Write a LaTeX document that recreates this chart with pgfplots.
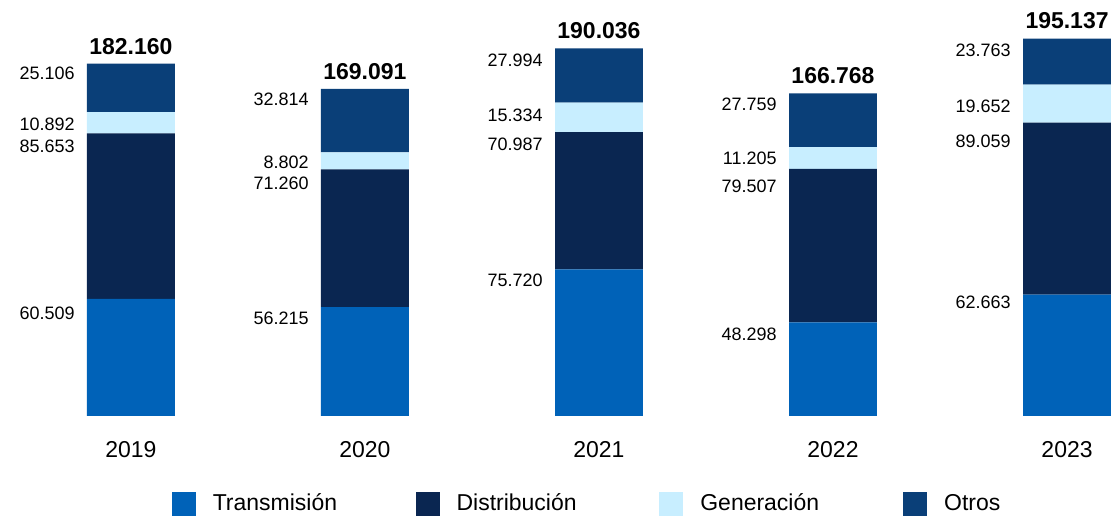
\documentclass[border=0pt]{standalone}
\usepackage{fontspec}
\setmainfont{Liberation Sans}
\usepackage{pgfplots}
\pgfplotsset{compat=1.18}
\usepackage{pgfplotstable}

\definecolor{trans}{HTML}{0062B8}
\definecolor{dist}{HTML}{0A2651}
\definecolor{gen}{HTML}{C8EEFF}
\definecolor{otros}{HTML}{0A3F78}

% x, value, label, label offset (px below segment top), total
\pgfplotstableread{
x T Tl To D Dl Do G Gl Go O Ol Oo tot
0 60.509 60.509 14 85.653 85.653 13 10.892 10.892 12 25.106 25.106 10 182.160
1 56.215 56.215 11 71.260 71.260 14 8.802 8.802 10 32.814 32.814 10 169.091
2 75.720 75.720 11 70.987 70.987 12 15.334 15.334 13 27.994 27.994 12 190.036
3 48.298 48.298 12 79.507 79.507 18 11.205 11.205 11 27.759 27.759 11 166.768
4 62.663 62.663 8 89.059 89.059 19 19.652 19.652 22 23.763 23.763 12 195.137
}\data

\pgfplotsset{
  sqlegend/.style={legend image code/.code={\fill[##1] (0pt,-6pt) rectangle (12pt,6pt);}},
  seglabel/.style 2 args={
    nodes near coords,
    point meta=explicit symbolic,
    visualization depends on={\thisrow{#1} \as \val},
    visualization depends on={\thisrow{#2} \as \off},
    every node near coord/.append style={anchor=east, inner sep=0pt, xshift=-28pt,
      yshift={\val*0.48372pt-\off*0.5pt}, font=\fontsize{9}{10}\selectfont, text=black},
  },
  geom/.style={
    scale only axis,
    width=555.5pt, height=208pt,
    xmin=-0.5592, xmax=4.1836,
    ymin=0, ymax=215,
    clip=false,
  },
}

\begin{document}
\begin{tikzpicture}
\begin{axis}[
  geom,
  ybar stacked,
  bar width=44pt,
  axis line style={draw=none},
  major tick length=0pt,
  ytick=\empty,
  xtick={0,1,2,3,4},
  xticklabels={2019,2020,2021,2022,2023},
  xticklabel style={anchor=north, inner sep=0pt, yshift=-12.5pt, font=\fontsize{11.5}{13}\selectfont},
  legend columns=4,
  legend style={draw=none, fill=none, inner sep=0pt, outer sep=0pt, column sep=0pt,
    anchor=south west, at={(0.1548,-0.2404)},
    font=\fontsize{11.5}{13}\selectfont, nodes={inner sep=0pt}},
]
\addplot[fill=trans, draw=none, sqlegend, seglabel={T}{To}] table[x=x, y=T, meta=Tl] {\data};
\addlegendentry{\hspace{8.5pt}\makebox[101.5pt][l]{Transmisión}}
\addplot[fill=dist, draw=none, sqlegend, seglabel={D}{Do}] table[x=x, y=D, meta=Dl] {\data};
\addlegendentry{\hspace{8.5pt}\makebox[101.5pt][l]{Distribución}}
\addplot[fill=gen, draw=none, sqlegend, seglabel={G}{Go}] table[x=x, y=G, meta=Gl] {\data};
\addlegendentry{\hspace{8.5pt}\makebox[101.5pt][l]{Generación}}
\addplot[fill=otros, draw=none, sqlegend, seglabel={O}{Oo}] table[x=x, y=O, meta=Ol] {\data};
\addlegendentry{\hspace{8.5pt}\makebox[40pt][l]{Otros}}
\end{axis}
\begin{axis}[geom, hide axis]
\addplot[draw=none, mark=none, nodes near coords, point meta=explicit symbolic,
  every node near coord/.append style={anchor=south, inner sep=0pt, yshift=4.5pt,
    font=\bfseries\fontsize{11.5}{13}\selectfont, text=black}]
  table[x=x, y=tot, meta=tot] {\data};
\end{axis}
\end{tikzpicture}
\end{document}
